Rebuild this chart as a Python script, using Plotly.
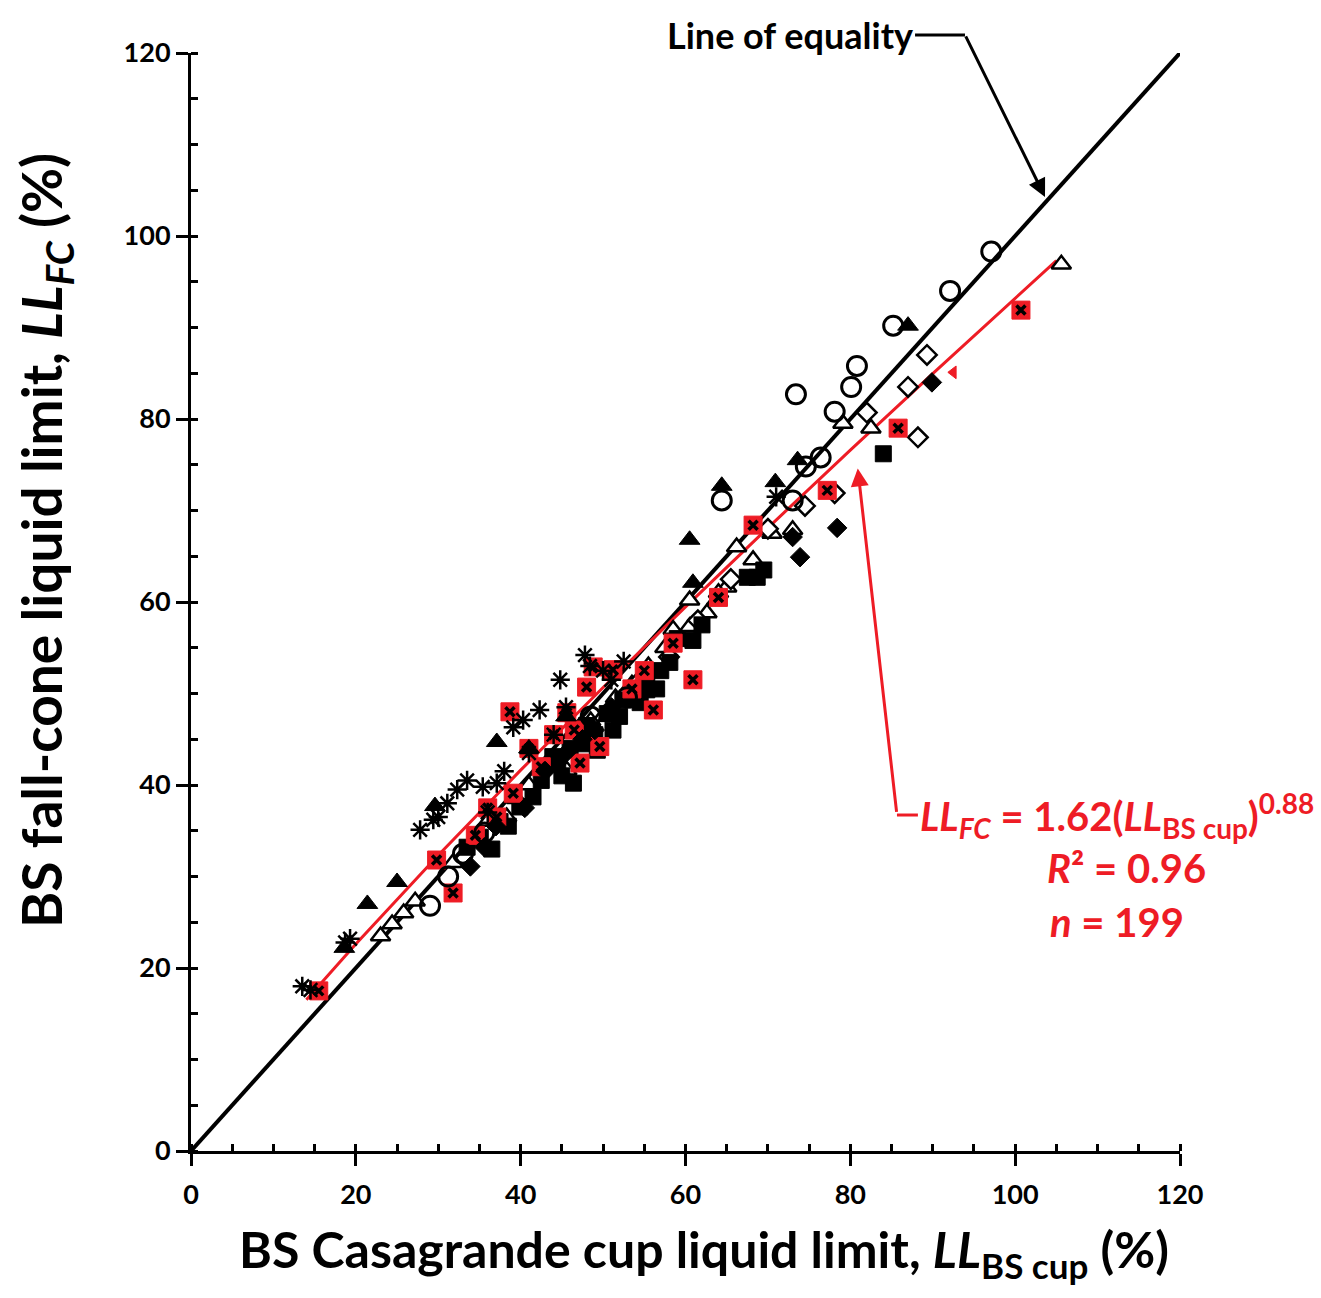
import plotly.graph_objects as go

# ---------------- data ----------------
open_circle_x = [29.0, 31.2, 35.6, 52.9, 64.4, 73.0, 74.6, 76.4, 73.4, 78.1, 80.1, 80.8, 85.2, 92.1, 97.1,
                 33.0, 48.5]
open_circle_y = [26.8, 30.0, 34.8, 49.6, 71.1, 71.1, 74.8, 75.8, 82.7, 80.8, 83.5, 85.8, 90.2, 94.0, 98.3,
                 32.5, 47.5]

filled_tri_x = [18.6, 21.4, 25.0, 29.6, 37.1, 60.5, 60.9, 64.4, 70.9, 73.6, 87.0, 41.0, 45.5]
filled_tri_y = [22.2, 27.0, 29.4, 37.7, 44.7, 66.8, 62.1, 72.7, 73.1, 75.5, 90.2, 44.0, 47.5]

open_tri_x = [23.0, 24.4, 25.8, 27.2, 31.8, 34.5, 38.3, 41.0, 45.6, 47.6, 50.0, 53.5, 57.5, 60.5, 60.5,
              62.6, 63.8, 65.0, 66.2, 68.2, 70.5, 73.0, 79.1, 82.5, 105.6,
              36.0, 39.5, 43.0, 48.5, 51.5, 55.5, 58.5, 64.0]
open_tri_y = [23.5, 24.8, 26.0, 27.3, 31.5, 34.0, 36.5, 40.0, 41.6, 45.8, 47.5, 51.0, 55.0, 60.2, 57.3,
              58.8, 60.2, 61.6, 66.0, 64.6, 67.5, 67.9, 79.5, 79.0, 96.9,
              36.0, 38.5, 42.0, 47.0, 49.5, 53.0, 57.0, 61.0]

filled_sq_x = [33.5, 35.1, 37.5, 39.9, 41.5, 43.9, 46.4, 49.3, 51.2, 52.4, 53.6, 55.3, 55.3, 57.0, 58.1,
               60.9, 67.5, 68.7, 84.0, 44.5, 47.5, 48.0, 50.5, 36.5, 42.5,
               38.5, 45.0, 46.0, 49.0, 52.0, 54.5, 56.5, 59.0, 62.0, 69.5]
filled_sq_y = [33.2, 34.3, 36.0, 37.6, 38.7, 43.1, 40.2, 43.8, 46.0, 49.3, 49.3, 50.4, 51.5, 52.5, 53.4,
               55.8, 62.7, 62.7, 76.2, 42.5, 44.5, 46.5, 47.8, 33.0, 40.5,
               35.5, 41.0, 44.0, 45.5, 47.5, 49.0, 50.5, 56.0, 57.5, 63.5]

red_sq_x = [15.5, 29.8, 31.8, 37.1, 39.1, 38.7, 45.6, 47.2, 48.0, 48.8, 49.6, 51.2, 56.1, 60.9, 68.2,
            77.2, 85.8, 100.7, 42.5, 34.5, 53.5, 64.0, 36.0, 41.0, 44.0, 46.5, 58.5, 55.0]
red_sq_y = [17.5, 31.8, 28.2, 36.5, 39.1, 48.0, 47.9, 42.4, 50.7, 52.9, 44.2, 52.6, 48.2, 51.5, 68.4,
            72.2, 79.0, 91.9, 42.0, 34.5, 50.5, 60.5, 37.5, 44.0, 45.5, 46.0, 55.5, 52.5]

open_dia_x = [78.1, 82.0, 87.0, 88.2, 89.3, 65.5, 70.0, 58.0, 54.0, 61.5, 74.5]
open_dia_y = [71.9, 80.7, 83.5, 78.0, 87.0, 62.5, 68.0, 54.0, 51.0, 58.0, 70.5]

filled_dia_x = [33.9, 35.6, 40.5, 43.0, 45.5, 73.0, 73.9, 78.4, 89.9, 49.0, 37.0, 47.5, 51.0]
filled_dia_y = [31.1, 33.2, 37.5, 41.5, 43.5, 67.1, 64.9, 68.1, 84.0, 46.0, 35.5, 45.0, 48.5]

asterisk_x = [13.5, 14.5, 18.7, 19.3, 27.8, 29.4, 31.1, 32.3, 33.5, 35.4, 37.1, 39.1, 40.3, 42.3, 44.8,
              47.8, 48.4, 71.0, 36.0, 44.0, 51.0, 38.0, 41.0, 45.5, 50.0, 52.5, 30.0]
asterisk_y = [18.0, 17.6, 22.8, 23.2, 35.1, 36.2, 38.0, 39.5, 40.5, 39.8, 40.2, 46.3, 47.1, 48.2, 51.5,
              54.2, 53.0, 71.5, 37.0, 45.5, 51.5, 41.5, 43.5, 48.5, 52.5, 53.5, 36.5]

red_tri_x = [92.5]
red_tri_y = [85.1]

equality_x = [0, 120]
equality_y = [0, 120]

# fitted power law stated in the chart: LL_FC = a * LL_cup ** b
fit_a, fit_b = 1.62, 0.88
fit_x = [14, 20, 30, 40, 50, 60, 70, 80, 90, 100, 105]
fit_y = [fit_a * v ** fit_b for v in fit_x]

x_ticks = [0, 20, 40, 60, 80, 100, 120]
y_ticks = [0, 20, 40, 60, 80, 100, 120]

FONT = "Lato"
RED = "#ee1c25"

fig = go.Figure()

fig.add_trace(go.Scatter(x=equality_x, y=equality_y, mode="lines",
                         line=dict(color="black", width=4), showlegend=False))
fig.add_trace(go.Scatter(x=fit_x, y=fit_y, mode="lines",
                         line=dict(color=RED, width=3), showlegend=False))

def add_markers(x, y, symbol, size, fill, line_color="black", line_width=2.2):
    fig.add_trace(go.Scatter(
        x=x, y=y, mode="markers", showlegend=False, cliponaxis=False,
        marker=dict(symbol=symbol, size=size, color=fill,
                    line=dict(color=line_color, width=line_width))))

add_markers(open_tri_x, open_tri_y, "triangle-up", 17, "white", line_width=2.5)
add_markers(open_dia_x, open_dia_y, "diamond", 15, "white", line_width=2.5)
add_markers(filled_sq_x, filled_sq_y, "square", 16, "black", line_width=1)
add_markers(red_sq_x, red_sq_y, "square", 18, RED, line_color=RED, line_width=1)
add_markers(red_sq_x, red_sq_y, "x-thin-open", 9, "black", line_width=3.5)
add_markers(filled_dia_x, filled_dia_y, "diamond", 15, "black", line_width=1)
add_markers(filled_tri_x, filled_tri_y, "triangle-up", 18, "black", line_width=1)
add_markers(asterisk_x, asterisk_y, "asterisk-open", 16, "black", line_width=2.5)
add_markers(open_circle_x, open_circle_y, "circle", 19, "rgba(255,255,255,0)", line_width=3)
add_markers(red_tri_x, red_tri_y, "triangle-left", 11, RED, line_color=RED, line_width=1)

axis_common = dict(
    showline=True, linecolor="black", linewidth=3, mirror=False,
    showgrid=False, zeroline=False,
    ticks="outside", ticklen=12, tickwidth=3, tickcolor="black",
    tickfont=dict(family=FONT, size=27, color="black", weight="bold"),
    minor=dict(ticks="inside", ticklen=7, tickwidth=2.5, tickcolor="black", dtick=5, showgrid=False),
)

fig.update_xaxes(range=[0, 120], tickvals=x_ticks, ticklabelstandoff=6, **axis_common)
fig.update_yaxes(range=[0, 120], tickvals=y_ticks, **axis_common)

# axis titles (placed as annotations to match the reference position)
fig.add_annotation(xref="paper", yref="paper", x=0.5187, y=-0.092, xanchor="center", yanchor="middle",
                   text="BS Casagrande cup liquid limit, <i>LL</i><sub>BS cup</sub> (%)",
                   showarrow=False, font=dict(family=FONT, size=50, color="black", weight="bold"))
fig.add_annotation(xref="paper", yref="paper", x=-0.1476, y=0.5556, xanchor="center", yanchor="middle",
                   text="BS fall-cone liquid limit, <i>LL<sub>FC</sub></i> (%)", textangle=-90,
                   showarrow=False, font=dict(family=FONT, size=55, color="black", weight="bold"))

# --- annotations ---
fig.add_annotation(xref="paper", yref="paper", x=0.7321, y=1.0164, xanchor="right", yanchor="middle",
                   text="Line of equality", showarrow=False,
                   font=dict(family=FONT, size=36, color="black", weight="bold"))
fig.add_shape(type="line", xref="paper", yref="paper", x0=0.7321, y0=1.0164, x1=0.7826, y1=1.0164,
              line=dict(color="black", width=3))
fig.add_annotation(xref="paper", yref="paper", x=0.8635, y=0.8689, ax=-80, ay=-162,
                   text="", showarrow=True, arrowhead=2, arrowsize=1.2, arrowwidth=3, arrowcolor="black")

fig.add_annotation(x=80.9, y=74.6, ax=39, ay=345, text="", showarrow=True,
                   arrowhead=2, arrowsize=1.2, arrowwidth=3, arrowcolor=RED)
fig.add_shape(type="line", xref="paper", yref="paper", x0=0.7138, y0=0.3060, x1=0.7350, y1=0.3060,
              line=dict(color=RED, width=3))

eq_font = dict(family=FONT, size=40, color=RED, weight="bold")
fig.add_annotation(xref="paper", yref="paper", x=0.7350, y=0.3060, xanchor="left", yanchor="middle",
                   text="<i>LL<sub>FC</sub></i> = 1.62(<i>LL</i><sub>BS cup</sub>)<sup>0.88</sup>",
                   showarrow=False, font=eq_font)
fig.add_annotation(xref="paper", yref="paper", x=0.946, y=0.2577, xanchor="center", yanchor="middle",
                   text="<i>R</i>² = 0.96", showarrow=False, font=eq_font)
fig.add_annotation(xref="paper", yref="paper", x=0.9363, y=0.2086, xanchor="center", yanchor="middle",
                   text="<i>n</i> = 199", showarrow=False, font=eq_font)

fig.update_layout(
    width=1321, height=1298,
    margin=dict(l=191, r=141, t=53, b=147),
    plot_bgcolor="white", paper_bgcolor="white",
    font=dict(family=FONT, color="black"),
)

fig.write_html("out.html")
